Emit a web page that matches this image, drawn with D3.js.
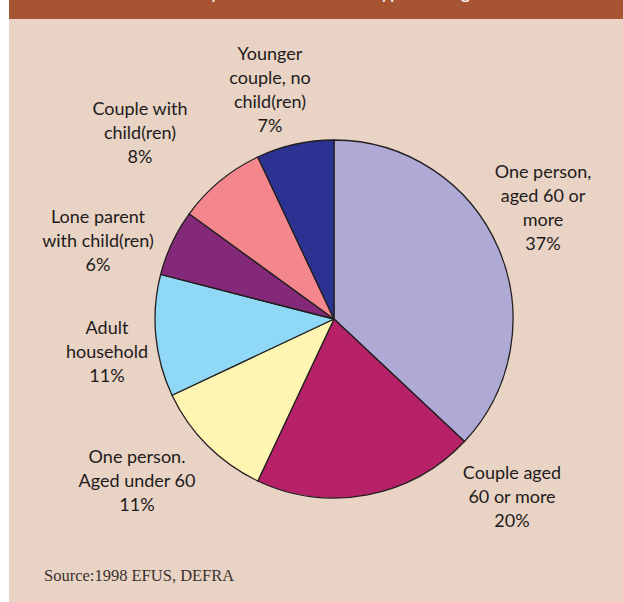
<!DOCTYPE html>
<html>
<head>
<meta charset="utf-8">
<script src="https://cdn.jsdelivr.net/npm/d3@7"></script>
<style>
  html, body { margin: 0; padding: 0; background: #fff; }
  svg { display: block; }
  .lbl { font-family: Lato, "Open Sans", sans-serif; font-size: 18px; fill: #1f1b1c; }
  .src { font-family: "Liberation Serif", "DejaVu Serif", serif; font-size: 16.5px; fill: #3a3230; }
</style>
</head>
<body>
<div id="chart"></div>
<script>
// 데이터
const categories = [
    'One person, aged 60 or more',
    'Couple aged 60 or more',
    'One person. Aged under 60',
    'Adult household',
    'Lone parent with child(ren)',
    'Couple with child(ren)',
    'Younger couple, no child(ren)'
];
const shares = [37, 20, 11, 11, 6, 8, 7];
const labelLines = [
    ['One person,', 'aged 60 or', 'more'],
    ['Couple aged', '60 or more'],
    ['One person.', 'Aged under 60'],
    ['Adult', 'household'],
    ['Lone parent', 'with child(ren)'],
    ['Couple with', 'child(ren)'],
    ['Younger', 'couple, no', 'child(ren)']
];
const colors = ['#aeaad5', '#b72167', '#fdf5b1', '#8fd8f6', '#84297a', '#f3878d', '#2c3292'];

// 레이블 위치 (첫 줄 기준선)
const labelPos = [
    { x: 543, y: 178 },
    { x: 512, y: 479 },
    { x: 137, y: 463 },
    { x: 107, y: 334 },
    { x: 98, y: 223 },
    { x: 140, y: 115 },
    { x: 270, y: 60 }
];

const W = 623, H = 602;
const svg = d3.select('#chart').append('svg')
    .attr('width', W)
    .attr('height', H);

// 배경
svg.append('rect').attr('x', 9).attr('y', 0).attr('width', W - 9).attr('height', H).attr('fill', '#e8d3c4');
svg.append('rect').attr('x', 9).attr('y', 0).attr('width', W - 9).attr('height', 19).attr('fill', '#a75432');

// 제목 (위쪽이 잘려 있음)
svg.append('text')
    .attr('x', 96).attr('y', -1)
    .style('font-family', 'Lato, sans-serif')
    .style('font-size', '19px')
    .attr('fill', '#fff')
    .text('Households by size of household type and age');

const cx = 334, cy = 319, r = 179;
const g = svg.append('g').attr('transform', `translate(${cx},${cy})`);

const pie = d3.pie().sort(null).value(d => d);
const arc = d3.arc().innerRadius(0).outerRadius(r);

g.selectAll('path')
    .data(pie(shares))
    .enter().append('path')
    .attr('d', arc)
    .attr('fill', (d, i) => colors[i])
    .attr('stroke', '#231f20')
    .attr('stroke-width', 1.3)
    .attr('stroke-linejoin', 'round');

const lh = 24;
categories.forEach((c, i) => {
    const t = svg.append('text')
        .attr('class', 'lbl')
        .attr('text-anchor', 'middle')
        .attr('x', labelPos[i].x)
        .attr('y', labelPos[i].y);
    labelLines[i].concat([shares[i] + '%']).forEach((line, j) => {
        t.append('tspan')
            .attr('x', labelPos[i].x)
            .attr('dy', j === 0 ? 0 : lh)
            .text(line);
    });
});

svg.append('text')
    .attr('class', 'src')
    .attr('x', 44).attr('y', 581)
    .text('Source:1998 EFUS, DEFRA');
</script>
</body>
</html>
